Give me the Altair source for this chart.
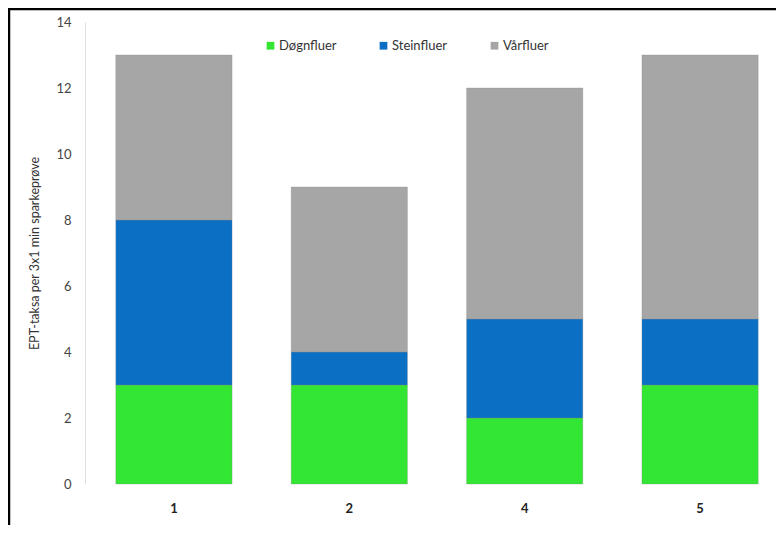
import altair as alt
import pandas as pd

sites = ["1", "2", "4", "5"]
groups = ["Døgnfluer", "Steinfluer", "Vårfluer"]
dogn = [3, 3, 2, 3]
stein = [5, 1, 3, 2]
varf = [5, 5, 7, 8]
colors = ["#33e633", "#0b6fc4", "#a6a6a6"]

rows = []
for i, s in enumerate(sites):
    for g, vals, o in zip(groups, [dogn, stein, varf], [0, 1, 2]):
        rows.append({"Lokalitet": s, "Gruppe": g, "Antall": vals[i], "ord": o})
df = pd.DataFrame(rows)

FONT = "Lato"

bars = alt.Chart(df).mark_bar(stroke="#8a8a8a", strokeWidth=0.6, strokeOpacity=0.5).encode(
    x=alt.X("Lokalitet:N", sort=sites, title=None,
            scale=alt.Scale(paddingInner=0.337, paddingOuter=0.09),
            axis=alt.Axis(labelAngle=0, labelFontWeight="bold", labelFontSize=13,
                          labelColor="#222222", ticks=False, domain=False,
                          labelPadding=18, labelFont=FONT)),
    y=alt.Y("Antall:Q", stack="zero", title="EPT-taksa per 3x1 min sparkeprøve",
            scale=alt.Scale(domain=[0, 14], nice=False),
            axis=alt.Axis(values=[0, 2, 4, 6, 8, 10, 12, 14], grid=False, ticks=False,
                          offset=15, domainColor="#e0e0e0", labelFontSize=13,
                          labelColor="#444444", labelPadding=14, titleFontSize=12.5,
                          titleFontWeight="normal", titleColor="#333333", titlePadding=14,
                          labelFont=FONT, titleFont=FONT)),
    color=alt.Color("Gruppe:N", sort=groups,
                    scale=alt.Scale(domain=groups, range=colors),
                    legend=alt.Legend(title=None, orient="none", legendX=164, legendY=17,
                                      direction="horizontal", symbolType="square",
                                      symbolSize=60, symbolStrokeWidth=0, labelFontSize=13,
                                      labelColor="#333333", columnPadding=40,
                                      labelFont=FONT, labelOffset=2)),
    order=alt.Order("ord:Q", sort="ascending"),
)

frame_df = pd.DataFrame({"k": [0]})
top_line = alt.Chart(frame_df).mark_rule(color="#000000", strokeWidth=2.5).encode(
    x=alt.value(-92), x2=alt.value(680), y=alt.value(-13)
)
left_line = alt.Chart(frame_df).mark_rule(color="#000000", strokeWidth=2.5).encode(
    x=alt.value(-91), y=alt.value(-14), y2=alt.value(530)
)

chart = alt.layer(bars, top_line, left_line).properties(
    width=674, height=462,
    autosize=alt.AutoSizeParams(type="none"),
    padding={"left": 92, "top": 14, "right": 2, "bottom": 41},
).configure_view(stroke=None)

chart.save("out.html", embed_options={"renderer": "svg", "actions": False})
